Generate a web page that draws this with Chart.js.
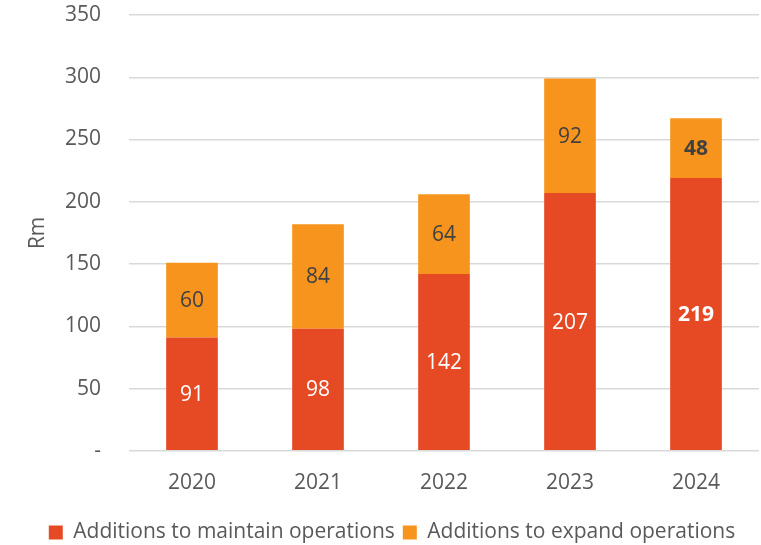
<!DOCTYPE html>
<html>
<head>
<meta charset="utf-8">
<script src="https://cdn.jsdelivr.net/npm/chart.js@4/dist/chart.umd.min.js"></script>
<style>
  html, body { margin: 0; padding: 0; background: #fff; }
  #wrap { width: 761px; height: 545px; position: relative; }
</style>
</head>
<body>
<div id="wrap"><canvas id="CapexChart"></canvas></div>
<script>
const years = ['2020', '2021', '2022', '2023', '2024'];
const maintain_values = [91, 98, 142, 207, 219];
const expand_values = [60, 84, 64, 92, 48];
const y_ticks = [0, 50, 100, 150, 200, 250, 300, 350];

const red = '#E64A24';
const orange = '#F7941D';
const text_grey = '#595959';
const font_family = "'Open Sans', 'Noto Sans', sans-serif";
const font_size = 21;

// writes each segment's value in the middle of its bar
const segmentLabels = {
    id: 'segmentLabels',
    afterDatasetsDraw(chart) {
        const ctx = chart.ctx;
        ctx.save();
        ctx.textAlign = 'center';
        ctx.textBaseline = 'middle';
        chart.data.datasets.forEach((ds, di) => {
            const meta = chart.getDatasetMeta(di);
            meta.data.forEach((bar, i) => {
                const bold = i === years.length - 1;
                ctx.font = (bold ? 'bold ' : '') + font_size + 'px ' + font_family;
                ctx.fillStyle = di === 0 ? '#ffffff' : '#404040';
                ctx.fillText(ds.data[i], bar.x, (bar.y + bar.base) / 2 + 1);
            });
        });
        ctx.restore();
    }
};

new Chart(document.getElementById('CapexChart'), {
    type: 'bar',
    data: {
        labels: years,
        datasets: [
            {
                label: 'Additions to maintain operations',
                data: maintain_values,
                backgroundColor: red,
                barPercentage: 0.41,
                categoryPercentage: 1,
            },
            {
                label: 'Additions to expand operations',
                data: expand_values,
                backgroundColor: orange,
                barPercentage: 0.41,
                categoryPercentage: 1,
            }
        ]
    },
    options: {
        responsive: true,
        maintainAspectRatio: false,
        animation: false,
        layout: {
            autoPadding: false,
            padding: {top: 15, right: 2, bottom: -8, left: 25}
        },
        scales: {
            x: {
                stacked: true,
                grid: {display: false},
                border: {display: false},
                afterFit: (scale) => {
                    scale.height += 6;
                },
                ticks: {
                    color: text_grey,
                    font: {family: font_family, size: font_size},
                    padding: 12,
                }
            },
            y: {
                stacked: true,
                min: 0,
                max: 350,
                afterBuildTicks: (scale) => {
                    scale.ticks = y_ticks.map(v => ({value: v}));
                },
                afterFit: (scale) => {
                    scale.width = 104;
                    scale.paddingTop = 0;
                    scale.paddingBottom = 0;
                },
                grid: {
                    color: '#d9d9d9',
                    lineWidth: 1.5,
                    drawTicks: false,
                },
                border: {display: false},
                ticks: {
                    color: text_grey,
                    font: {family: font_family, size: font_size},
                    padding: 28,
                    callback: (value) => value === 0 ? '-' : value,
                },
                title: {
                    display: true,
                    text: 'Rm',
                    color: text_grey,
                    font: {family: font_family, size: font_size},
                    padding: {top: 0, bottom: 0},
                }
            }
        },
        plugins: {
            legend: {
                position: 'bottom',
                labels: {
                    color: text_grey,
                    font: {family: font_family, size: font_size},
                    boxWidth: 14,
                    boxHeight: 14,
                    padding: 8,
                }
            },
            tooltip: {enabled: false}
        }
    },
    plugins: [segmentLabels]
});
</script>
</body>
</html>
